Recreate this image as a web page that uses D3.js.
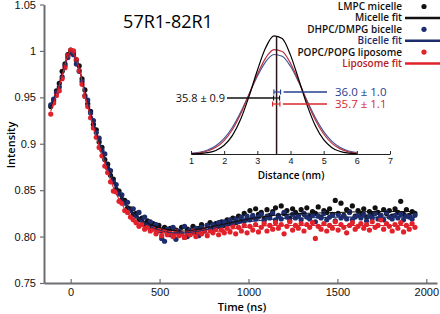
<!DOCTYPE html>
<html>
<head>
<meta charset="utf-8">
<script src="https://cdn.jsdelivr.net/npm/d3@7"></script>
<style>
body { margin: 0; background: #fff; }
svg { display: block; font-family: 'Open Sans', sans-serif; }
</style>
</head>
<body>
<svg id="chart"></svg>
<script>
// time grid of the traces (ns)
const time_start = -112;
const time_step = 16;

// measured traces
const micelle = [
  0.940, 0.946, 0.957, 0.965, 0.978, 0.986, 0.996, 1.001, 0.998, 0.990,
  0.984, 0.970, 0.958, 0.943, 0.935, 0.921, 0.915, 0.902, 0.896, 0.883,
  0.878, 0.866, 0.862, 0.851, 0.849, 0.840, 0.839, 0.831, 0.830, 0.824,
  0.825, 0.818, 0.820, 0.813, 0.817, 0.811, 0.814, 0.808, 0.812, 0.806,
  0.810, 0.803, 0.809, 0.801, 0.807, 0.804, 0.810, 0.799, 0.808, 0.806,
  0.811, 0.805, 0.809, 0.813, 0.807, 0.812, 0.815, 0.809, 0.814, 0.811,
  0.816, 0.812, 0.818, 0.814, 0.820, 0.815, 0.822, 0.817, 0.825, 0.819,
  0.828, 0.821, 0.830, 0.824, 0.826, 0.819, 0.829, 0.823, 0.827, 0.831,
  0.822, 0.833, 0.825, 0.828, 0.820, 0.830, 0.826, 0.823, 0.829, 0.824,
  0.831, 0.822, 0.827, 0.825, 0.832, 0.821, 0.828, 0.826, 0.830, 0.824,
  0.839, 0.825, 0.836, 0.823, 0.829, 0.827, 0.833, 0.822, 0.828, 0.825,
  0.830, 0.821, 0.827, 0.824, 0.831, 0.826, 0.823, 0.829, 0.825, 0.828,
  0.822, 0.830, 0.826, 0.838, 0.824, 0.829, 0.823, 0.827, 0.825
];
const bicelle = [
  0.942, 0.948, 0.955, 0.961, 0.972, 0.984, 0.993, 0.998, 0.996, 0.986,
  0.978, 0.967, 0.952, 0.947, 0.933, 0.925, 0.912, 0.906, 0.893, 0.889,
  0.874, 0.871, 0.859, 0.856, 0.846, 0.845, 0.836, 0.837, 0.828, 0.830,
  0.822, 0.826, 0.817, 0.821, 0.812, 0.816, 0.810, 0.813, 0.806, 0.798,
  0.795, 0.808, 0.802, 0.810, 0.797, 0.806, 0.803, 0.811, 0.800, 0.807,
  0.804, 0.809, 0.801, 0.810, 0.806, 0.812, 0.808, 0.813, 0.810, 0.815,
  0.811, 0.816, 0.813, 0.818, 0.814, 0.819, 0.816, 0.821, 0.817, 0.822,
  0.818, 0.823, 0.819, 0.821, 0.824, 0.817, 0.822, 0.820, 0.825, 0.818,
  0.823, 0.819, 0.826, 0.821, 0.817, 0.824, 0.820, 0.822, 0.818, 0.825,
  0.821, 0.819, 0.823, 0.816, 0.822, 0.820, 0.825, 0.818, 0.821, 0.823,
  0.817, 0.824, 0.820, 0.822, 0.819, 0.826, 0.818, 0.821, 0.823, 0.820,
  0.824, 0.817, 0.822, 0.820, 0.825, 0.819, 0.823, 0.818, 0.826, 0.821,
  0.819, 0.823, 0.820, 0.824, 0.818, 0.822, 0.821, 0.819, 0.823
];
const liposome = [
  0.932, 0.944, 0.952, 0.957, 0.970, 0.982, 0.995, 1.001, 1.000, 0.991,
  0.979, 0.964, 0.951, 0.940, 0.928, 0.917, 0.907, 0.896, 0.887, 0.876,
  0.869, 0.859, 0.849, 0.848, 0.838, 0.836, 0.828, 0.826, 0.821, 0.818,
  0.815, 0.811, 0.813, 0.808, 0.810, 0.806, 0.808, 0.803, 0.807, 0.801,
  0.806, 0.802, 0.804, 0.800, 0.805, 0.801, 0.803, 0.799, 0.804, 0.802,
  0.806, 0.800, 0.805, 0.803, 0.807, 0.801, 0.806, 0.804, 0.808, 0.802,
  0.807, 0.804, 0.809, 0.805, 0.811, 0.803, 0.810, 0.806, 0.812, 0.804,
  0.811, 0.807, 0.813, 0.805, 0.810, 0.814, 0.806, 0.812, 0.808, 0.815,
  0.809, 0.813, 0.803, 0.811, 0.816, 0.807, 0.812, 0.809, 0.814, 0.806,
  0.813, 0.810, 0.815, 0.798, 0.811, 0.808, 0.814, 0.806, 0.812, 0.809,
  0.816, 0.807, 0.813, 0.810, 0.804, 0.812, 0.815, 0.808, 0.811, 0.814,
  0.809, 0.813, 0.807, 0.816, 0.810, 0.812, 0.818, 0.808, 0.814, 0.811,
  0.806, 0.813, 0.809, 0.815, 0.805, 0.812, 0.808, 0.814, 0.810
];

// fitted traces
const fit_time = [-112, -80, -48, -16, 0, 16, 48, 80, 112, 144, 176, 208, 240, 272, 304, 336,
  368, 400, 448, 496, 560, 640, 720, 800, 900, 1000, 1150, 1300, 1500, 1700, 1936];
const micelle_fit = [0.940, 0.955, 0.976, 0.996, 1.000, 0.997, 0.982, 0.957, 0.933, 0.912, 0.893,
  0.876, 0.860, 0.847, 0.837, 0.829, 0.823, 0.818, 0.813, 0.810, 0.807, 0.806, 0.808, 0.811,
  0.815, 0.819, 0.823, 0.825, 0.826, 0.827, 0.827];
const bicelle_fit = [0.942, 0.955, 0.973, 0.993, 0.998, 0.995, 0.980, 0.956, 0.934, 0.913, 0.893,
  0.875, 0.859, 0.846, 0.836, 0.828, 0.822, 0.817, 0.811, 0.807, 0.804, 0.804, 0.806, 0.809,
  0.813, 0.816, 0.819, 0.820, 0.821, 0.821, 0.821];
const liposome_fit = [0.935, 0.953, 0.973, 0.995, 1.000, 0.997, 0.981, 0.952, 0.929, 0.908, 0.888,
  0.870, 0.853, 0.840, 0.830, 0.822, 0.816, 0.812, 0.808, 0.806, 0.803, 0.802, 0.803, 0.805,
  0.808, 0.810, 0.812, 0.812, 0.812, 0.812, 0.812];

// distance distributions (inset)
const dist_r = [1, 1.25, 1.5, 1.75, 2, 2.25, 2.5, 2.75, 3, 3.25, 3.5, 3.75, 4, 4.25, 4.5,
  4.75, 5, 5.25, 5.5, 5.75, 6];
const micelle_pr = [0.001, 0.003, 0.011, 0.030, 0.073, 0.156, 0.294, 0.485, 0.702, 0.892, 0.993,
  0.970, 0.831, 0.624, 0.411, 0.237, 0.120, 0.053, 0.021, 0.007, 0.002];
const bicelle_pr = [0.006, 0.015, 0.034, 0.070, 0.131, 0.225, 0.353, 0.503, 0.654, 0.775, 0.836,
  0.822, 0.737, 0.602, 0.448, 0.304, 0.188, 0.106, 0.054, 0.025, 0.011];
const liposome_pr = [0.004, 0.010, 0.025, 0.056, 0.113, 0.206, 0.338, 0.501, 0.669, 0.806, 0.877,
  0.861, 0.763, 0.610, 0.440, 0.286, 0.168, 0.089, 0.043, 0.018, 0.007];

// mean distances (nm) and spreads
const dist_labels = ['35.8 ± 0.9', '36.0 ± 1.0', '35.7 ± 1.1'];
const dist_mean = [3.58, 3.60, 3.57];
const dist_err = [0.09, 0.10, 0.11];

const y_ticks = [0.75, 0.80, 0.85, 0.9, 0.95, 1, 1.05];
const y_tick_labels = ['0.75', '0.80', '0.85', '0.9', '0.95', '1', '1.05'];
const x_ticks = [0, 500, 1000, 1500, 2000];
const inset_ticks = [1, 2, 3, 4, 5, 6, 7];
const legend_labels = ['LMPC micelle', 'Micelle fit', 'DHPC/DMPG bicelle', 'Bicelle fit',
  'POPC/POPG liposome', 'Liposome fit'];

const width = 440, height = 314;
const black = '#111111', navy = '#1c2c6c', red = '#e2222b';

const svg = d3.select('#chart')
    .attr('width', width)
    .attr('height', height);

const xscale = d3.scaleLinear().domain([-150, 2060]).range([44, 437]);
const yscale = d3.scaleLinear().domain([0.75, 1.05]).range([283, 4.5]);

const times = micelle.map((d, i) => time_start + i * time_step);

// axes
const axis_color = '#6d6e71';
const xaxis_group = svg.append('g')
    .attr('transform', `translate(0, ${yscale(0.75)})`)
    .call(d3.axisBottom(xscale).tickValues(x_ticks).tickFormat(d3.format('d'))
        .tickSizeInner(-4).tickSizeOuter(0).tickPadding(5));
const yaxis_group = svg.append('g')
    .attr('transform', `translate(${xscale(-150)}, 0)`)
    .call(d3.axisLeft(yscale).tickValues(y_ticks).tickFormat((d, i) => y_tick_labels[i])
        .tickSizeInner(4).tickSizeOuter(0).tickPadding(4));

[xaxis_group, yaxis_group].forEach(g => {
    g.select('.domain').attr('stroke', axis_color).attr('stroke-width', 2);
    g.selectAll('.tick line').attr('stroke', axis_color).attr('stroke-width', 1.2);
    g.selectAll('.tick text').attr('fill', '#111').style('font-size', '11px');
});

svg.append('text')
    .attr('x', 242).attr('y', 311)
    .attr('text-anchor', 'middle')
    .style('font-size', '11px').style('font-weight', 600)
    .text('Time (ns)');

svg.append('text')
    .attr('transform', 'rotate(-90)')
    .attr('x', -145).attr('y', 15)
    .attr('text-anchor', 'middle')
    .style('font-size', '11px').style('font-weight', 600)
    .text('Intensity');

svg.append('text')
    .attr('x', 168).attr('y', 28)
    .attr('text-anchor', 'middle')
    .style('font-size', '18px')
    .text('57R1-82R1');

// traces
const series = [
    { values: micelle, color: black },
    { values: bicelle, color: navy },
    { values: liposome, color: red }
];
series.forEach(s => {
    svg.append('g').selectAll('circle')
        .data(s.values)
        .join('circle')
        .attr('r', 2.6)
        .attr('cx', (d, i) => xscale(times[i]))
        .attr('cy', d => yscale(d))
        .attr('fill', s.color);
});

const fit_line = d3.line()
    .x((d, i) => xscale(fit_time[i]))
    .y(d => yscale(d))
    .curve(d3.curveMonotoneX);
[[micelle_fit, black], [bicelle_fit, navy], [liposome_fit, red]].forEach(([vals, color]) => {
    svg.append('path')
        .attr('d', fit_line(vals))
        .attr('fill', 'none')
        .attr('stroke', color)
        .attr('stroke-width', 1.1);
});

// legend
const legend = svg.append('g');
const legend_colors = [black, navy, red];
const legend_text_colors = ['#111', '#111', '#111', '#1c2c6c', '#111', '#b61d24'];
legend_labels.forEach((label, i) => {
    const cy = 6.5 + i * 11.4;
    const color = legend_colors[Math.floor(i / 2)];
    legend.append('text')
        .attr('x', 402).attr('y', cy + 3.5)
        .attr('text-anchor', 'end')
        .attr('fill', legend_text_colors[i])
        .style('font-size', '10px').style('font-weight', 600)
        .text(label);
    if (i % 2 === 0) {
        legend.append('circle').attr('cx', 424).attr('cy', cy).attr('r', 2.6).attr('fill', color);
    } else {
        legend.append('line')
            .attr('x1', 405).attr('x2', 440).attr('y1', cy).attr('y2', cy)
            .attr('stroke', color).attr('stroke-width', 2.5);
    }
});

// inset: distance distributions
const rscale = d3.scaleLinear().domain([1, 7]).range([191, 390]);
const pscale = d3.scaleLinear().domain([0, 1]).range([154, 35]);

const inset_axis = svg.append('g')
    .attr('transform', `translate(0, ${pscale(0)})`)
    .call(d3.axisBottom(rscale).tickValues(inset_ticks).tickFormat(d3.format('d'))
        .tickSizeInner(-3).tickSizeOuter(0).tickPadding(4));
inset_axis.select('.domain').attr('stroke', '#222').attr('stroke-width', 1);
inset_axis.selectAll('.tick line').attr('stroke', '#222');
inset_axis.selectAll('.tick text').attr('fill', '#111').style('font-size', '9px');

svg.append('text')
    .attr('x', 291).attr('y', 179)
    .attr('text-anchor', 'middle')
    .style('font-size', '10px').style('font-weight', 600)
    .text('Distance (nm)');

const pr_line = d3.line()
    .x((d, i) => rscale(dist_r[i]))
    .y(d => pscale(d))
    .curve(d3.curveMonotoneX);
[[bicelle_pr, '#45559a'], [liposome_pr, '#b8323f'], [micelle_pr, '#000']].forEach(([vals, color]) => {
    svg.append('path')
        .attr('d', pr_line(vals))
        .attr('fill', 'none')
        .attr('stroke', color)
        .attr('stroke-width', 1.2);
});

svg.append('line')
    .attr('x1', rscale(dist_mean[0])).attr('x2', rscale(dist_mean[0]))
    .attr('y1', pscale(0)).attr('y2', pscale(0.99))
    .attr('stroke', '#2a1416').attr('stroke-width', 1.5);

// mean distance markers with error bars
const marker_y = [98, 92, 104];
const marker_color = ['#111', '#25408f', '#d9262b'];
dist_labels.forEach((label, i) => {
    const y = marker_y[i], c = marker_color[i];
    const lo = rscale(dist_mean[i] - dist_err[i]), hi = rscale(dist_mean[i] + dist_err[i]);
    const g = svg.append('g').attr('stroke', c).attr('stroke-width', 1.2);
    g.append('line').attr('x1', lo).attr('x2', hi).attr('y1', y).attr('y2', y);
    g.append('line').attr('x1', lo).attr('x2', lo).attr('y1', y - 2.5).attr('y2', y + 2.5);
    g.append('line').attr('x1', hi).attr('x2', hi).attr('y1', y - 2.5).attr('y2', y + 2.5);
    if (i === 0) {
        g.append('line').attr('x1', 227).attr('x2', lo).attr('y1', y).attr('y2', y).attr('stroke-width', 1.5);
        svg.append('text').attr('x', 225).attr('y', y + 4)
            .attr('text-anchor', 'end').attr('fill', c)
            .style('font-size', '11px').text(label);
    } else {
        g.append('line').attr('x1', hi + 3).attr('x2', 327).attr('y1', y).attr('y2', y).attr('stroke-width', 1.5);
        svg.append('text').attr('x', 335).attr('y', y + 4.2)
            .attr('fill', c)
            .style('font-size', '11.5px').text(label);
    }
});
</script>
</body>
</html>
